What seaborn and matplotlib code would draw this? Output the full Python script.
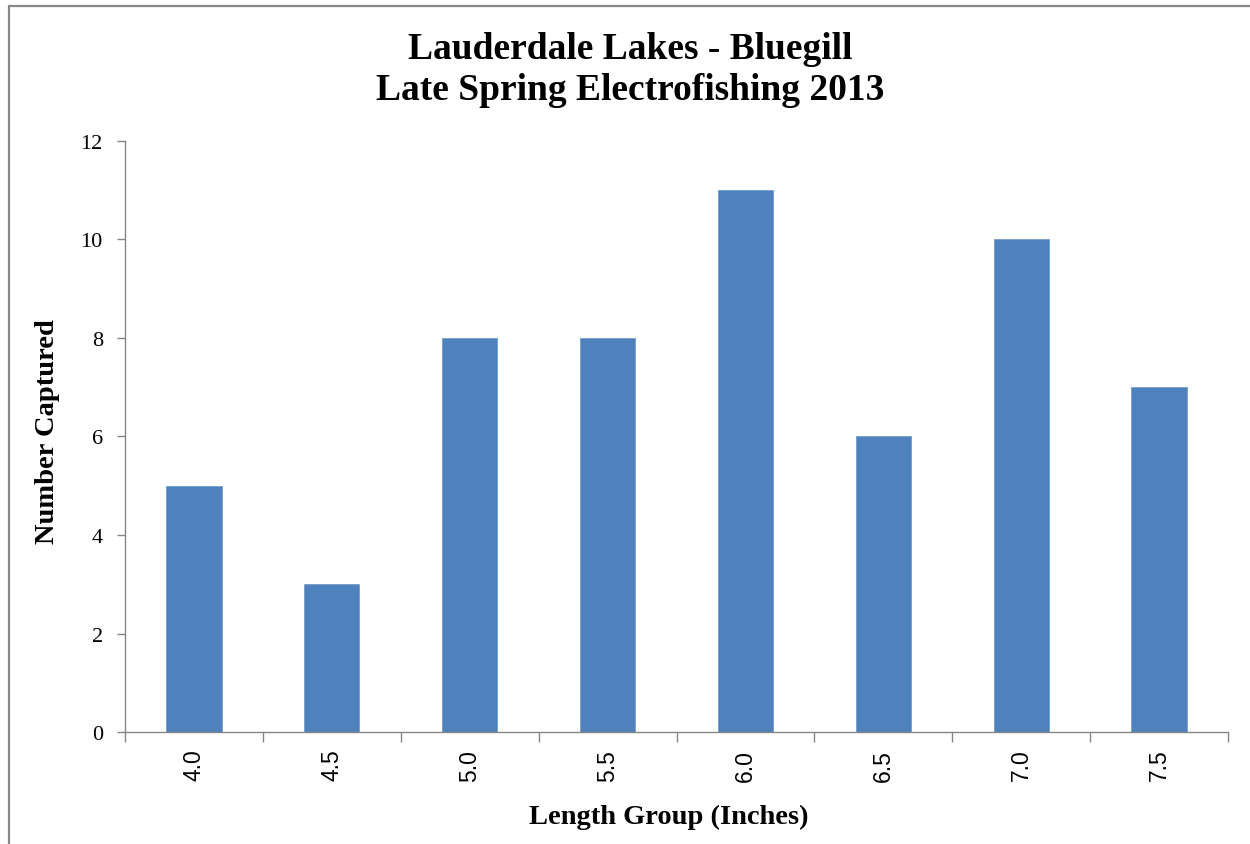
import matplotlib
matplotlib.use('Agg')
import matplotlib.pyplot as plt
import seaborn as sns
import pandas as pd
from matplotlib.lines import Line2D

length_groups = ['4.0', '4.5', '5.0', '5.5', '6.0', '6.5', '7.0', '7.5']
captured = [5, 3, 8, 8, 11, 6, 10, 7]

sns.set_style('white')
plt.rcParams['font.family'] = ['Liberation Serif', 'DejaVu Serif']
plt.rcParams['text.color'] = 'black'
plt.rcParams['xtick.labelcolor'] = 'black'
plt.rcParams['ytick.labelcolor'] = 'black'

df = pd.DataFrame({'length': length_groups, 'count': captured})

fig = plt.figure(figsize=(12.5, 8.45), dpi=100)
ax = fig.add_axes([0.1, 0.1325, 0.8824, 0.6995])

sns.barplot(data=df, x='length', y='count', order=length_groups,
            color='#4F81BD', saturation=1, width=0.4, ax=ax,
            edgecolor='#6d96c8', linewidth=0.5)

axis_gray = '#868686'
ax.set_xlim(-0.5, len(length_groups) - 0.5)
ax.set_ylim(0, 12)
ax.set_yticks(range(0, 13, 2))
ax.tick_params(axis='y', direction='out', length=6, width=1, color=axis_gray,
               labelsize=16, pad=10, left=True, labelcolor='black')
# Excel style: ticks sit between categories, labels centred under bars
ax.set_xticks([i - 0.5 for i in range(len(length_groups) + 1)], minor=True)
ax.tick_params(axis='x', which='minor', direction='out', length=7, width=1,
               color=axis_gray, bottom=True)
ax.tick_params(axis='x', which='major', length=0, pad=12, bottom=False,
               labelcolor='black')
ax.set_xticks(range(len(length_groups)))
ax.set_xticklabels(length_groups, rotation=90, fontsize=16.5,
                   family=['Liberation Sans', 'DejaVu Sans'])

for side in ['top', 'right']:
    ax.spines[side].set_visible(False)
for side in ['left', 'bottom']:
    ax.spines[side].set_color(axis_gray)
    ax.spines[side].set_linewidth(1)

ax.set_xlabel('')
ax.set_ylabel('')
fig.text(669 / 1250, 1 - 817 / 845, 'Length Group (Inches)', ha='center',
         va='center', fontsize=20.5, fontweight='bold', color='black')
fig.text(48 / 1250, 1 - 432 / 845, 'Number Captured', ha='center',
         va='center', rotation=90, fontsize=20.5, fontweight='bold',
         color='black')
fig.text(630 / 1250, 1 - 70 / 845,
         'Lauderdale Lakes - Bluegill\nLate Spring Electrofishing 2013',
         ha='center', va='center', fontsize=27, fontweight='bold',
         linespacing=1.2, color='black')

# chart frame (only top and left edges are visible in the crop)
fig.add_artist(Line2D([8.5 / 1250, 1], [1 - 7 / 845, 1 - 7 / 845],
                      transform=fig.transFigure, color='#888888', lw=1.6))
fig.add_artist(Line2D([9 / 1250, 9 / 1250], [0, 1 - 7 / 845],
                      transform=fig.transFigure, color='#888888', lw=1.6))

fig.savefig('out.png', dpi=100, facecolor='white')
